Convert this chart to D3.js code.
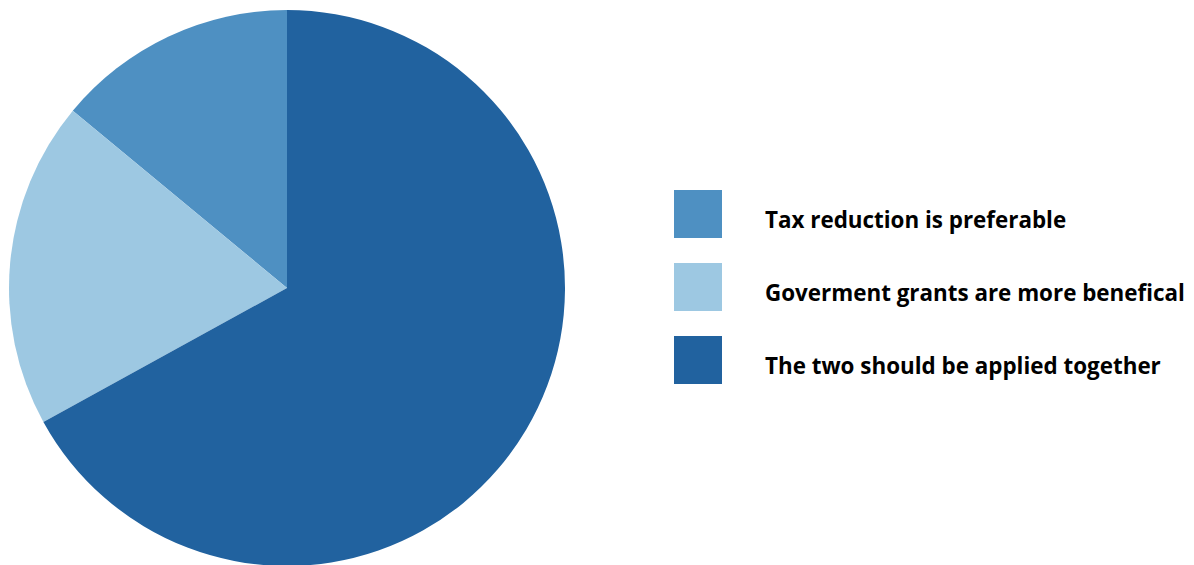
<!DOCTYPE html>
<html>
<head>
<meta charset="utf-8">
<script src="https://cdn.jsdelivr.net/npm/d3@7"></script>
<style>
  html, body { margin: 0; padding: 0; background: #fff; }
  svg { display: block; }
</style>
</head>
<body>
<svg id="chart" width="1194" height="565"></svg>
<script>
// Survey answers and their share of responses (%)
const categories = [
  "Tax reduction is preferable",
  "Goverment grants are more benefical",
  "The two should be applied together"
];
const values = [14, 19, 67];
const colors = ["#4e90c2", "#9dc8e2", "#21629f"];

const svg = d3.select("#chart");
const cx = 287, cy = 288, radius = 278;

const color = d3.scaleOrdinal().domain(categories).range(colors);

// Slices run counter-clockwise from 12 o'clock in legend order
const pie = d3.pie()
  .sort(null)
  .value(d => d.value)
  .startAngle(0)
  .endAngle(-2 * Math.PI);

const data = categories.map((c, i) => ({ category: c, value: values[i] }));
const arc = d3.arc().innerRadius(0).outerRadius(radius);

svg.append("g")
  .attr("transform", `translate(${cx},${cy})`)
  .selectAll("path")
  .data(pie(data))
  .join("path")
  .attr("d", arc)
  .attr("fill", d => color(d.data.category));

// Legend
const legendY = d3.scaleBand()
  .domain(categories)
  .range([190, 190 + 73 * 3])
  .paddingInner(0);

const legend = svg.append("g")
  .selectAll("g")
  .data(categories)
  .join("g")
  .attr("transform", d => `translate(674,${legendY(d)})`);

legend.append("rect")
  .attr("width", 48)
  .attr("height", 48)
  .attr("fill", d => color(d));

legend.append("text")
  .attr("x", 91)
  .attr("y", 38)
  .style("font-family", "'Open Sans', sans-serif")
  .style("font-weight", 700)
  .style("font-size", "22.4px")
  .attr("fill", "#000")
  .text(d => d);
</script>
</body>
</html>
